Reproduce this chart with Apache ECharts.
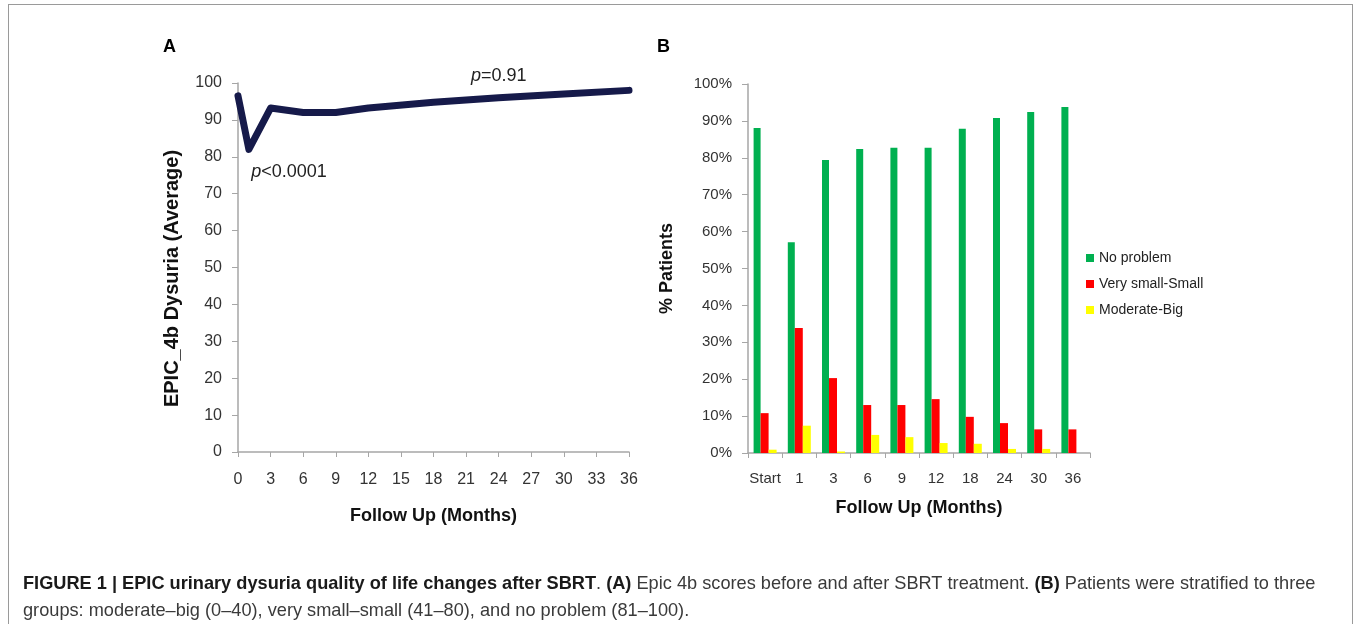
<!DOCTYPE html>
<html>
<head>
<meta charset="utf-8">
<script src="https://cdn.jsdelivr.net/npm/echarts@6/dist/echarts.min.js"></script>
<style>
  html, body { margin: 0; padding: 0; background: #fff; }
  #frame { position: absolute; left: 8px; top: 4px; width: 1343px; height: 640px;
           border: 1px solid #9a9a9a; border-bottom: none; }
  #Chart { position: absolute; left: 0; top: 0; width: 1356px; height: 624px; }
</style>
</head>
<body>
<div id="frame"></div>
<div id="Chart"></div>
<script>
// panel A: average score per follow-up month
const monthsA = [0, 1, 3, 6, 9, 12, 18, 24, 30, 36];
const dysuriaAvg = [96.5, 82, 93.2, 92, 92, 93.2, 94.8, 96, 97, 98];

// panel B: share of patients per group
const visits = ['Start', '1', '3', '6', '9', '12', '18', '24', '30', '36'];
const noProblem = [88.1, 57.1, 79.4, 82.4, 82.7, 82.7, 87.9, 90.8, 92.4, 93.8];
const smallProblem = [10.8, 33.9, 20.3, 13.0, 13.0, 14.6, 9.8, 8.1, 6.4, 6.4];
const bigProblem = [0.9, 7.4, 0.4, 4.9, 4.3, 2.7, 2.5, 1.1, 1.1, 0];

const font = 'Liberation Sans, Arial, sans-serif';
const axisGrey = '#a6a6a6';
const tickText = { color: '#333', fontSize: 15, fontFamily: font };
const titleText = { color: '#111', fontSize: 18, fontWeight: 'bold', fontFamily: font };

let myChart = echarts.init(document.getElementById('Chart'));
myChart.setOption({
    animation: false,
    textStyle: { fontFamily: font },
    grid: [
        { left: 238, top: 83, width: 391, height: 369 },
        { left: 748, top: 84, width: 342, height: 369 }
    ],
    legend: {
        orient: 'vertical',
        left: 1081, top: 246,
        itemWidth: 8, itemHeight: 8, itemGap: 12,
        icon: 'rect',
        textStyle: { color: '#222', fontSize: 14, fontFamily: font },
        data: ['No problem', 'Very small-Small', 'Moderate-Big']
    },
    xAxis: [
        {
            gridIndex: 0, type: 'value', min: 0, max: 36, interval: 3,
            name: 'Follow Up (Months)', nameLocation: 'middle', nameGap: 55,
            nameTextStyle: titleText,
            axisLine: { lineStyle: { color: axisGrey, width: 1.5 } },
            axisTick: { show: true, length: 5, lineStyle: { color: axisGrey } },
            axisLabel: Object.assign({}, tickText, { margin: 20, fontSize: 16 }),
            splitLine: { show: false }
        },
        {
            gridIndex: 1, type: 'category', data: visits,
            name: 'Follow Up (Months)', nameLocation: 'middle', nameGap: 46,
            nameTextStyle: titleText,
            axisLine: { lineStyle: { color: axisGrey, width: 1.5 } },
            axisTick: { show: true, length: 5, lineStyle: { color: axisGrey } },
            axisLabel: Object.assign({}, tickText, { margin: 18, interval: 0 })
        }
    ],
    yAxis: [
        {
            gridIndex: 0, type: 'value', min: 0, max: 100, interval: 10,
            name: 'EPIC_4b Dysuria (Average)', nameLocation: 'middle', nameGap: 56,
            nameTextStyle: Object.assign({}, titleText, { fontSize: 20, padding: [0, 22, 0, 0] }),
            axisLine: { show: true, lineStyle: { color: axisGrey, width: 1.5 } },
            axisTick: { show: true, length: 6, lineStyle: { color: axisGrey } },
            axisLabel: Object.assign({}, tickText, { margin: 16, fontSize: 16 }),
            splitLine: { show: false }
        },
        {
            gridIndex: 1, type: 'value', min: 0, max: 100, interval: 10,
            name: '% Patients', nameLocation: 'middle', nameGap: 72,
            nameTextStyle: titleText,
            axisLine: { show: true, lineStyle: { color: axisGrey, width: 1.5 } },
            axisTick: { show: true, length: 6, lineStyle: { color: axisGrey } },
            axisLabel: Object.assign({}, tickText, { margin: 16, formatter: '{value}%' }),
            splitLine: { show: false }
        }
    ],
    series: [
        {
            name: 'EPIC_4b', type: 'line', xAxisIndex: 0, yAxisIndex: 0,
            data: monthsA.map((m, i) => [m, dysuriaAvg[i]]),
            symbol: 'none',
            lineStyle: { color: '#161a4a', width: 7, join: 'round', cap: 'round' },
            markPoint: {
                symbol: 'circle', symbolSize: 1,
                itemStyle: { color: 'rgba(0,0,0,0)' },
                label: { show: true, position: 'inside', color: '#222', fontSize: 18, fontFamily: font,
                    formatter: p => p.name, rich: { i: { fontStyle: 'italic', fontSize: 18, color: '#222', fontFamily: font } } },
                data: [
                    { coord: [4.7, 75.9], name: '{i|p}<0.0001' },
                    { coord: [24.0, 99.5], name: '{i|p}=0.91', label: { offset: [0, -9] } }
                ]
            }
        },
        {
            name: 'No problem', type: 'bar', xAxisIndex: 1, yAxisIndex: 1,
            data: noProblem, itemStyle: { color: '#00b050' },
            barWidth: 7, barGap: '0%'
        },
        {
            name: 'Very small-Small', type: 'bar', xAxisIndex: 1, yAxisIndex: 1,
            data: smallProblem, itemStyle: { color: '#ff0000' },
            barWidth: 8, barGap: '0%'
        },
        {
            name: 'Moderate-Big', type: 'bar', xAxisIndex: 1, yAxisIndex: 1,
            data: bigProblem, itemStyle: { color: '#ffff00' },
            barWidth: 8, barGap: '0%'
        }
    ],
    graphic: [
        { type: 'text', left: 163, top: 38, style: { text: 'A', fontSize: 18, fontWeight: 'bold', fill: '#000', fontFamily: font } },
        { type: 'text', left: 657, top: 38, style: { text: 'B', fontSize: 18, fontWeight: 'bold', fill: '#000', fontFamily: font } },
        {
            type: 'text', left: 23, top: 570,
            style: {
                text: '{b|FIGURE 1 | EPIC urinary dysuria quality of life changes after SBRT}. {b|(A)} Epic 4b scores before and after SBRT treatment. {b|(B)} Patients were stratified to three\ngroups: moderate\u2013big (0\u201340), very small\u2013small (41\u201380), and no problem (81\u2013100).',
                fontSize: 18.2, fill: '#3a3a3a', fontFamily: font, lineHeight: 27,
                rich: { b: { fontWeight: 'bold', fontSize: 18.2, fill: '#1a1a1a', fontFamily: font, lineHeight: 27 } }
            }
        }
    ]
});
</script>
</body>
</html>
